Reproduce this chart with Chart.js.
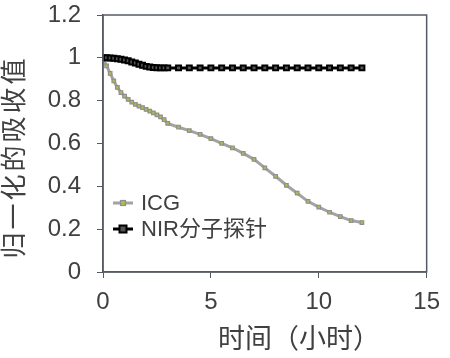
<!DOCTYPE html>
<html>
<head>
<meta charset="utf-8">
<script src="https://cdn.jsdelivr.net/npm/chart.js@4.4.0/dist/chart.umd.min.js"></script>
<style>
  html, body { margin: 0; padding: 0; background: #fff; }
  #wrap { width: 450px; height: 358px; }
</style>
</head>
<body>
<div id="wrap"><canvas id="absChart" width="450" height="358"></canvas></div>
<script>
// time points (h): every 10 min for the first 3 h, then every half hour
const hours = [0, 0.167, 0.333, 0.5, 0.667, 0.833, 1.0, 1.167, 1.333, 1.5, 1.667, 1.833,
  2.0, 2.167, 2.333, 2.5, 2.667, 2.833, 3.0,
  3.5, 4.0, 4.5, 5.0, 5.5, 6.0, 6.5, 7.0, 7.5, 8.0, 8.5, 9.0, 9.5, 10.0, 10.5, 11.0, 11.5, 12.0];
const icgValues = [1.0, 0.962, 0.927, 0.892, 0.862, 0.838, 0.821, 0.806, 0.793, 0.783, 0.775, 0.767,
  0.759, 0.751, 0.743, 0.734, 0.724, 0.711, 0.694,
  0.676, 0.66, 0.643, 0.623, 0.601, 0.58, 0.554, 0.526, 0.486, 0.447, 0.405, 0.368, 0.33, 0.303, 0.279, 0.259, 0.24, 0.231];
const nirValues = [1.0, 1.0, 0.999, 0.998, 0.996, 0.993, 0.99, 0.986, 0.981, 0.976, 0.97, 0.965,
  0.96, 0.957, 0.955, 0.954, 0.953, 0.953, 0.953,
  0.953, 0.953, 0.953, 0.953, 0.953, 0.953, 0.953, 0.953, 0.953, 0.953, 0.953, 0.953, 0.953, 0.953, 0.953, 0.953, 0.953, 0.953];
const seriesNames = ['ICG', 'NIR分子探针'];
const xTickLabels = ['0', '5', '10', '15'];
const yTickLabels = ['0', '0.2', '0.4', '0.6', '0.8', '1', '1.2'];
const xTitle = '时间（小时）';
const yTitle = '归一化的吸收值';

const FONT = '"Liberation Sans", "Noto Sans CJK SC", sans-serif';
const TEXT = '#404040';
const AXIS = '#555b66';

const toPoints = vals => vals.map((v, i) => ({ x: hours[i], y: v }));

// frame, axis titles and in-plot legend
const decorations = {
  id: 'decorations',
  afterDraw(chart) {
    const { ctx, chartArea: a } = chart;
    ctx.save();
    ctx.strokeStyle = AXIS;
    ctx.lineWidth = 1.5;
    ctx.strokeRect(a.left, a.top, a.right - a.left, a.bottom - a.top);

    ctx.fillStyle = TEXT;
    // x title
    ctx.font = '27px ' + FONT;
    ctx.textAlign = 'left';
    ctx.textBaseline = 'middle';
    ctx.fillText(xTitle, 218, 341);
    // y title
    ctx.save();
    ctx.translate(16, 157);
    ctx.rotate(-Math.PI / 2);
    ctx.textAlign = 'center';
    ctx.font = '26px ' + FONT;
    ctx.letterSpacing = '3px';
    ctx.fillText(yTitle, 0, 0);
    ctx.restore();

    // legend
    const ds = chart.data.datasets;
    const rows = [203, 229];
    ds.forEach((d, i) => {
      const y = rows[i];
      ctx.strokeStyle = d.borderColor;
      ctx.lineWidth = d.borderWidth;
      ctx.beginPath();
      ctx.moveTo(113, y);
      ctx.lineTo(133, y);
      ctx.stroke();
      const r = d.pointRadius;
      ctx.fillStyle = d.pointBackgroundColor;
      ctx.strokeStyle = d.pointBorderColor;
      ctx.lineWidth = d.pointBorderWidth;
      ctx.fillRect(123 - r, y - r, 2 * r, 2 * r);
      ctx.strokeRect(123 - r, y - r, 2 * r, 2 * r);
      ctx.fillStyle = TEXT;
      ctx.font = '22px ' + FONT;
      ctx.textAlign = 'left';
      ctx.fillText(d.label, 141, y + 1);
    });
    ctx.restore();
  }
};

const ctx = document.getElementById('absChart').getContext('2d');
const absChart = new Chart(ctx, {
  type: 'line',
  data: {
    datasets: [
      {
        label: seriesNames[0],
        data: toPoints(icgValues),
        borderColor: '#a3a3a3',
        borderWidth: 3,
        pointStyle: 'rect',
        pointRadius: 2.5,
        pointBackgroundColor: '#b3b84c',
        pointBorderColor: '#8f8f8f',
        pointBorderWidth: 1.2,
        tension: 0,
        order: 2
      },
      {
        label: seriesNames[1],
        data: toPoints(nirValues),
        borderColor: '#000000',
        borderWidth: 3,
        pointStyle: 'rect',
        pointRadius: 3.5,
        pointBackgroundColor: '#555555',
        pointBorderColor: '#000000',
        pointBorderWidth: 2,
        tension: 0,
        order: 1
      }
    ]
  },
  options: {
    responsive: false,
    animation: false,
    layout: { padding: { top: 0, right: 17, left: 0, bottom: 0 } },
    plugins: { legend: { display: false }, tooltip: { enabled: false } },
    scales: {
      x: {
        type: 'linear',
        min: 0, max: 15,
        afterFit: s => { s.height = 86; },
        ticks: {
          stepSize: 5,
          padding: 10,
          color: TEXT,
          font: { family: FONT, size: 24 },
          callback: (v) => xTickLabels[Math.round(v / 5)]
        },
        grid: { drawOnChartArea: false, drawTicks: true, tickLength: 6, color: AXIS },
        border: { color: AXIS, width: 1.5 }
      },
      y: {
        min: 0, max: 1.2,
        afterFit: s => { s.width = 103; s.paddingTop = 15; },
        ticks: {
          stepSize: 0.2,
          padding: 16,
          color: TEXT,
          font: { family: FONT, size: 24 },
          callback: (v) => yTickLabels[Math.round(v / 0.2)]
        },
        grid: { drawOnChartArea: false, drawTicks: true, tickLength: 6, color: AXIS },
        border: { color: AXIS, width: 1.5 }
      }
    }
  },
  plugins: [decorations]
});
</script>
</body>
</html>
